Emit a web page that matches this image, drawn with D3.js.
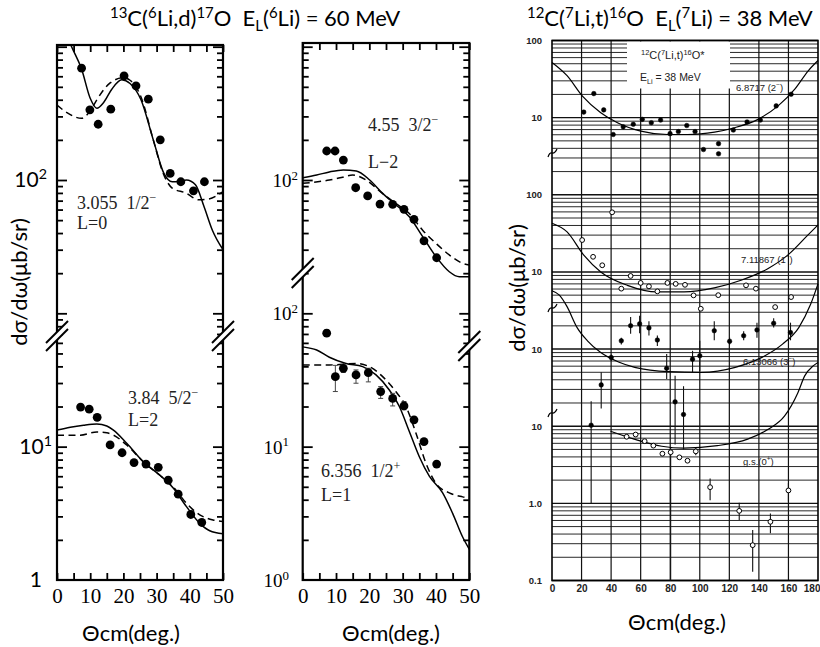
<!DOCTYPE html>
<html>
<head>
<meta charset="utf-8">
<script src="https://cdn.jsdelivr.net/npm/d3@7"></script>
<style>
body { margin: 0; background: #fff; }
svg { display: block; }
text { white-space: pre; }
</style>
</head>
<body>
<svg id="fig" width="820" height="647"></svg>
<script>
// ---- 13C(6Li,d)17O, 60 MeV : 3.055 1/2- (L=0)
const l0Angle = [7.4, 9.9, 12.4, 16.2, 20.2, 23.8, 27.5, 31.1, 34.1, 37.3, 41.1, 44.4];
const l0Sigma = [690, 336, 262, 340, 605, 509, 404, 200, 112, 97, 83, 97];
const l0Solid = [[0,1900],[2,1400],[4.4,1000],[7.4,680],[10,410],[12,345],[14,380],[16.5,480],[19.5,565],[22,530],[25.3,400],[29,200],[32.2,112],[34.7,97],[37,98],[39,100],[41.7,92],[44.3,63],[46.8,42],[50,30]];
const l0Dash = [[0,365],[3,320],[7.4,290],[10,330],[12,400],[16,535],[20,585],[22,560],[25.3,420],[29,200],[32,112],[34.7,87],[38.7,80],[42.7,71],[45.7,72],[50,82]];

// 3.84 5/2- (L=2)
const l2Angle = [7.1, 9.7, 12.1, 16.0, 19.6, 23.2, 26.8, 30.5, 33.5, 36.5, 40.3, 43.6];
const l2Sigma = [19.8, 19.1, 16.6, 10.3, 9.0, 7.6, 7.4, 7.0, 5.6, 4.4, 3.1, 2.7];
const l2Solid = [[0,13.3],[4,14],[8,14.5],[12,14.8],[15,14.3],[17,13.3],[21,10.6],[26,7.7],[31,6.1],[35,4.9],[39,3.55],[43,2.66],[46,2.34],[50,2.22]];
const l2Dash = [[0,12.2],[7,12.2],[12,12.9],[15,12.7],[17,12.2],[21,10.3],[26,7.7],[31,6.1],[35,5.0],[39,3.76],[43,3.08],[47,2.82],[50,2.75]];

// 4.55 3/2- (L=2)
const m2Angle = [7.2, 9.7, 12.2, 15.9, 19.5, 23.2, 27.0, 30.4, 33.4, 36.4, 40.2];
const m2Sigma = [165, 165, 141, 87.5, 75.9, 66, 65.7, 60.3, 50.7, 35, 26.1];
const m2Solid = [[0,104],[4.2,109],[8,115],[12.2,119],[16.1,117],[20.1,100],[24,79.4],[28,65],[32,53],[36,37.6],[40,26.6],[44,20.5],[47,18.8],[50,18.8]];
const m2Dash = [[0,94.4],[8,100],[12,105],[15,109],[19,100],[24,79],[28,66.6],[32,56],[36,42],[40,33.5],[44,27.4],[48,23.7],[50,23]];

// 6.356 1/2+ (L=1)
const m1Angle = [7.2, 9.8, 12.2, 16.0, 19.7, 23.4, 27.0, 30.4, 33.4, 36.4, 40.2];
const m1Sigma = [71, 33.5, 38.7, 34.5, 35.9, 25.9, 23, 20.2, 15.9, 10.9, 7.4];
const m1Low = [68, 25.9, 36, 29.9, 30.6, 23.0, 20.2, 18.9, 15.2, 10.5, 7.1];
const m1High = [75, 40.7, 41, 37.6, 38.7, 28.2, 25.1, 21.8, 16.6, 11.3, 7.7];
const m1Solid = [[0,56],[4.2,53],[8,46.8],[13,42],[18,39.8],[22,34.5],[26,26.6],[29,20],[32,13],[35,8.4],[38,6],[42,4.5],[45,3.16],[48,2.1],[50,1.7]];
const m1Dash = [[0,41],[8,41],[16,42],[20,39.8],[24,33.5],[28,25.8],[31,20],[34,12.6],[37,7.5],[40,5.3],[44,4.5],[48,4.2],[50,4.1]];

// ---- 12C(7Li,t)16O, 38 MeV (each state on its own offset of the log paper)
const s1Angle = [21.5, 28.3, 35, 41.4, 48.2, 55, 61.1, 67.2, 73.5, 79.9, 85.5, 91.2, 96.8, 102.5, 112.7, 112.7, 122.7, 132, 141, 151.7, 161.8];
const s1Sigma = [11.8, 20.5, 12.6, 6.05, 7.6, 8.2, 9.5, 8.6, 9.3, 6.2, 6.6, 7.9, 6.6, 3.86, 4.6, 3.4, 6.9, 8.8, 9.3, 14.2, 20.1];
const s1Curve = [[0,52],[10.2,35],[20.6,19],[33,11.6],[44.3,8.6],[60.1,6.7],[78.2,6.05],[91.8,6.05],[110,6.5],[123.5,7.4],[139.4,9.5],[153,14.2],[164.3,23.4],[173.4,40.5],[180,55]];

const s2Angle = [20.4, 27.8, 34, 40.7, 46.9, 53.2, 60, 65.6, 71.3, 78.1, 83.7, 90, 95.8, 100.7, 112.5, 131.3, 138, 151, 161.8];
const s2Sigma = [25.9, 15.7, 12.2, 59.3, 6.07, 8.87, 7.2, 6.5, 5.6, 7.2, 7.0, 6.8, 4.97, 3.33, 5.0, 6.7, 6.07, 3.5, 4.72];
const s2Curve = [[0,42.7],[10.2,33],[21.5,16.5],[33,10],[51,6.7],[71.3,5.5],[89.4,5.5],[109.8,6.2],[127.9,7.8],[146,11],[159.5,16.5],[173.1,30],[180,40.6]];

const s3Angle = [26.5, 33.3, 40.1, 46.9, 53.2, 59.3, 65.6, 71.3, 77.6, 83.3, 89, 95.1, 100, 109.8, 120.2, 129.7, 138.7, 150, 161.4];
const s3Sigma = [1.03, 3.43, 7.77, 12.8, 20.1, 21.2, 18.8, 13.1, 5.65, 2.07, 1.42, 7.4, 8.2, 17.3, 12.6, 14.9, 17.7, 21.6, 16.4];
const s3Low = [0.1, 1.7, 7.0, 11.5, 15.8, 16, 15, 11, 4.1, 0.58, 0.5, 5, 5.2, 13, 11.5, 13, 14, 19, 13];
const s3High = [2.1, 5.0, 8.5, 14, 26, 27, 23, 15, 8.6, 4.5, 3.3, 9.5, 12.8, 23, 14, 17, 22, 25, 22];
const s3Curve = [[0,57],[5,50],[10,36],[17,19],[24,12.8],[33,9.0],[45,6.8],[56,5.8],[79,5.1],[101,5.0],[124,5.8],[142,7.8],[156,11.6],[167,19],[175,38],[180,70]];

const s0Angle = [50.5, 56.6, 62.7, 68.6, 74.7, 80.3, 86.2, 91.7, 97.3, 107, 126.7, 135.8, 147.8, 160];
const s0Sigma = [7.3, 7.8, 6.4, 5.6, 4.4, 4.6, 3.95, 3.57, 4.72, 1.62, 0.80, 0.287, 0.577, 1.47];
const s0Low = [7.3, 7.8, 6.4, 5.6, 4.4, 0.1, 3.95, 3.57, 4.2, 1.1, 0.61, 0.13, 0.41, 1.05];
const s0High = [7.3, 7.8, 6.4, 5.6, 4.4, 5.2, 3.95, 3.57, 5.2, 2.1, 1.02, 0.45, 0.74, 1.83];
const s0Curve = [[39.6,8.6],[55.6,6.8],[74.3,5.5],[89.2,5.2],[111.9,5.6],[132.4,6.8],[146,9.06],[157.3,13.5],[166.4,27.2],[171,44.9],[176.7,60.5],[180,67]];

const stateScale = [1e4, 100, 10, 1];           // offset of each state on the paper
const rightTickPaper = [1e6, 1e5, 1e4, 1e3, 1e2, 10, 1, 0.1];
const rightTickText = ["100", "10", "100", "10", "10", "10", "1.0", "0.1"];

const svg = d3.select("#fig");
const SANS = "Lato, 'Open Sans', sans-serif";
const SERIF = "'Liberation Serif', 'DejaVu Serif', serif";

function rich(g, x, y, parts, size) {
  const t = g.append("text").attr("x", x).attr("y", y).attr("font-size", size);
  let shift = 0;
  parts.forEach(([s, m]) => {
    const target = m === "sup" ? -0.38 * size : m === "sub" ? 0.24 * size : 0;
    t.append("tspan").attr("dy", target - shift).attr("font-size", m ? size * 0.68 : size).text(s);
    shift = target;
  });
  return t;
}

// left and middle columns share the same log decades
const yUp = d3.scaleLog().domain([10, 1000]).range([313.3, 46.7]);
const yLo = d3.scaleLog().domain([1, 100]).range([580, 313.3]);

const colL = {x0: 57, x1: 223, top: 45, bottom: 580, split: 336, brL: 336, brR: 336};
const colM = {x0: 302.7, x1: 469.3, top: 43, bottom: 580, split: 300, brL: 273, brR: 346};
const xL = d3.scaleLinear().domain([0, 50]).range([colL.x0, colL.x1]);
const xM = d3.scaleLinear().domain([0, 50]).range([colM.x0, colM.x1]);

function frame(col, xs) {
  const g = svg.append("g");
  g.append("g").attr("transform", `translate(0,${col.bottom})`)
    .call(d3.axisBottom(xs).tickValues(d3.range(0, 51, 5)).tickSize(-7).tickFormat(""));
  g.append("g").attr("transform", `translate(0,${col.top})`)
    .call(d3.axisTop(xs).tickValues(d3.range(0, 51, 5)).tickSize(-7).tickFormat(""));
  [[yUp, col.top, col.split], [yLo, col.split, col.bottom]].forEach(([ys, a, b]) => {
    const vals = ys.copy().domain([ys.invert(b - 1), ys.invert(a + 1)]).ticks();
    const major = vals.filter(v => Math.abs(Math.log10(v) - Math.round(Math.log10(v))) < 1e-6);
    const minor = vals.filter(v => !major.includes(v));
    [[major, 10], [minor, 6]].forEach(([tv, len]) => {
      g.append("g").attr("transform", `translate(${col.x0},0)`)
        .call(d3.axisLeft(ys).tickValues(tv).tickSize(-len).tickFormat(""));
      g.append("g").attr("transform", `translate(${col.x1},0)`)
        .call(d3.axisRight(ys).tickValues(tv).tickSize(-len).tickFormat(""));
    });
  });
  g.selectAll(".domain").remove();
  g.selectAll("line").attr("stroke", "#000").attr("stroke-width", 1.8);
  g.append("rect").attr("x", col.x0).attr("y", col.top)
    .attr("width", col.x1 - col.x0).attr("height", col.bottom - col.top)
    .attr("fill", "none").attr("stroke", "#000").attr("stroke-width", 2.2);
  breakMark(col.x0, col.brL);
  breakMark(col.x1, col.brR);
  // x tick labels
  const xa = svg.append("g").attr("transform", `translate(0,${col.bottom})`)
    .call(d3.axisBottom(xs).tickValues(d3.range(0, 51, 10)).tickSize(0).tickPadding(8));
  xa.select(".domain").remove();
  xa.selectAll("text").attr("font-family", SERIF).attr("font-size", 21).attr("fill", "#000");
}

function breakMark(cx, cy) {
  const g = svg.append("g");
  g.append("polygon")
    .attr("points", `${cx-11},${cy+7} ${cx+11},${cy-15} ${cx+11},${cy-7} ${cx-11},${cy+15}`)
    .attr("fill", "#fff");
  [-4, 4].forEach(o => {
    g.append("line").attr("x1", cx - 11).attr("y1", cy + 11 + o).attr("x2", cx + 11).attr("y2", cy - 11 + o)
      .attr("stroke", "#000").attr("stroke-width", 2);
  });
}

let clipN = 0;
function section(xs, ys, x0, x1, y0, y1, angle, sigma, solid, dash, low, high) {
  const id = "clip" + (clipN++);
  svg.append("clipPath").attr("id", id).append("rect")
    .attr("x", x0).attr("y", y0).attr("width", x1 - x0).attr("height", y1 - y0);
  const g = svg.append("g").attr("clip-path", `url(#${id})`);
  const line = d3.line().x(d => xs(d[0])).y(d => ys(d[1])).curve(d3.curveMonotoneX);
  g.append("path").datum(solid).attr("d", line).attr("fill", "none").attr("stroke", "#000").attr("stroke-width", 1.5);
  g.append("path").datum(dash).attr("d", line).attr("fill", "none").attr("stroke", "#000")
    .attr("stroke-width", 1.5).attr("stroke-dasharray", "7,4.5");
  if (low) {
    angle.forEach((a, i) => {
      g.append("line").attr("x1", xs(a)).attr("x2", xs(a)).attr("y1", ys(low[i])).attr("y2", ys(high[i]))
        .attr("stroke", "#444").attr("stroke-width", 1);
      [low[i], high[i]].forEach(v => g.append("line").attr("x1", xs(a) - 2.5).attr("x2", xs(a) + 2.5)
        .attr("y1", ys(v)).attr("y2", ys(v)).attr("stroke", "#444").attr("stroke-width", 1));
    });
  }
  g.selectAll("circle.pt").data(angle).join("circle").attr("class", "pt")
    .attr("cx", d => xs(d)).attr("cy", (d, i) => ys(sigma[i])).attr("r", 4.4).attr("fill", "#000");
}

section(xL, yUp, colL.x0, colL.x1, colL.top, colL.split, l0Angle, l0Sigma, l0Solid, l0Dash);
section(xL, yLo, colL.x0, colL.x1, colL.split, colL.bottom, l2Angle, l2Sigma, l2Solid, l2Dash);
section(xM, yUp, colM.x0, colM.x1, colM.top, colM.split, m2Angle, m2Sigma, m2Solid, m2Dash);
section(xM, yLo, colM.x0, colM.x1, colM.split, colM.bottom, m1Angle, m1Sigma, m1Solid, m1Dash, m1Low, m1High);
frame(colL, xL);
frame(colM, xM);

// y tick labels
const lab = svg.append("g").attr("fill", "#000");
rich(lab.append("g").attr("font-family", SANS).attr("text-anchor", "end"), 47, yUp(100) + 7, [["10", ""], ["2", "sup"]], 21);
rich(lab.append("g").attr("font-family", SANS).attr("text-anchor", "end"), 52, yLo(10) + 7, [["10", ""], ["1", "sup"]], 21);
lab.append("text").attr("font-family", SANS).attr("text-anchor", "end").attr("x", 42).attr("y", yLo(1) + 7).attr("font-size", 21).text("1");
rich(lab.append("g").attr("font-family", SERIF).attr("text-anchor", "end"), 298, yUp(100) + 7, [["10", ""], ["2", "sup"]], 19);
rich(lab.append("g").attr("font-family", SERIF).attr("text-anchor", "end"), 298, yLo(100) + 7, [["10", ""], ["2", "sup"]], 19);
rich(lab.append("g").attr("font-family", SERIF).attr("text-anchor", "end"), 289, yLo(10) + 7, [["10", ""], ["1", "sup"]], 19);
rich(lab.append("g").attr("font-family", SERIF).attr("text-anchor", "end"), 289, yLo(1) + 7, [["10", ""], ["0", "sup"]], 19);

// state annotations
const ann = svg.append("g").attr("font-family", SERIF).attr("fill", "#222");
rich(ann, 77, 209, [["3.055  1/2", ""], ["\u2212", "sup"]], 18);
ann.append("text").attr("x", 77).attr("y", 229).attr("font-size", 18).text("L=0");
rich(ann, 128, 404, [["3.84  5/2", ""], ["\u2212", "sup"]], 18);
ann.append("text").attr("x", 128).attr("y", 426).attr("font-size", 18).text("L=2");
rich(ann, 368, 131, [["4.55  3/2", ""], ["\u2212", "sup"]], 18);
ann.append("text").attr("x", 368).attr("y", 168).attr("font-size", 18).text("L\u22122");
rich(ann, 321, 477, [["6.356  1/2", ""], ["+", "sup"]], 18);
ann.append("text").attr("x", 321).attr("y", 501).attr("font-size", 18).text("L=1");

// ---- right panel: log graph paper
const R = {x0: 552, x1: 818, top: 40.5, bottom: 580.5};
const xR = d3.scaleLinear().domain([0, 180]).range([R.x0, R.x1]);
const yR = d3.scaleLog().domain([0.1, 1e6]).range([R.bottom, R.top]);
const paper = svg.append("g");
paper.selectAll("line.h").data(yR.ticks()).join("line").attr("class", "h")
  .attr("x1", R.x0).attr("x2", R.x1).attr("y1", d => yR(d)).attr("y2", d => yR(d))
  .attr("stroke", "#111").attr("stroke-width", d => Math.abs(Math.log10(d) % 1) < 1e-6 ? 1.4 : 0.9);
paper.selectAll("line.v").data(d3.range(20, 180, 20)).join("line").attr("class", "v")
  .attr("x1", d => xR(d)).attr("x2", d => xR(d)).attr("y1", R.top).attr("y2", R.bottom)
  .attr("stroke", "#111").attr("stroke-width", 1.2);
paper.append("rect").attr("x", 627).attr("y", R.top + 1).attr("width", 103).attr("height", 47).attr("fill", "#fff");
paper.append("rect").attr("x", R.x0).attr("y", R.top).attr("width", R.x1 - R.x0).attr("height", R.bottom - R.top)
  .attr("fill", "none").attr("stroke", "#000").attr("stroke-width", 1.6);

const rline = k => d3.line().x(d => xR(d[0])).y(d => yR(d[1] * stateScale[k])).curve(d3.curveMonotoneX);
const rg = svg.append("g");
[s1Curve, s2Curve, s3Curve, s0Curve].forEach((c, k) => {
  rg.append("path").datum(c).attr("d", rline(k)).attr("fill", "none").attr("stroke", "#000").attr("stroke-width", 1.2);
});
[[s3Angle, s3Low, s3High, 2], [s0Angle, s0Low, s0High, 3]].forEach(([ang, lo, hi, k]) => {
  rg.selectAll(null).data(ang).join("line")
    .attr("x1", d => xR(d)).attr("x2", d => xR(d))
    .attr("y1", (d, i) => yR(lo[i] * stateScale[k])).attr("y2", (d, i) => yR(hi[i] * stateScale[k]))
    .attr("stroke", "#111").attr("stroke-width", 1.1);
});
[[s1Angle, s1Sigma, 0, true], [s2Angle, s2Sigma, 1, false], [s3Angle, s3Sigma, 2, true], [s0Angle, s0Sigma, 3, false]]
  .forEach(([ang, sig, k, filled]) => {
    rg.selectAll(null).data(ang).join("circle")
      .attr("cx", d => xR(d)).attr("cy", (d, i) => yR(sig[i] * stateScale[k]))
      .attr("r", filled ? 2.3 : 2.4).attr("fill", filled ? "#000" : "#fff")
      .attr("stroke", "#000").attr("stroke-width", filled ? 0.5 : 1);
  });

// break squiggles on the left edge
[153, 308, 413].forEach(cy => {
  rg.append("path").attr("d", `M${R.x0-4},${cy+4} C${R.x0-1},${cy-5} ${R.x0+1},${cy+5} ${R.x0+5},${cy-4}`)
    .attr("fill", "none").attr("stroke", "#000").attr("stroke-width", 1.2);
});

const rt = svg.append("g").attr("font-family", "'Liberation Sans', sans-serif").attr("font-weight", "bold").attr("fill", "#222");
rt.selectAll("text.yt").data(rightTickPaper).join("text").attr("class", "yt")
  .attr("x", 542).attr("y", d => yR(d) + 3.5).attr("text-anchor", "end").attr("font-size", 9.5)
  .text((d, i) => rightTickText[i]);
const xa = svg.append("g").attr("transform", `translate(0,${R.bottom})`)
  .call(d3.axisBottom(xR).tickValues(d3.range(0, 181, 20)).tickSize(0).tickPadding(4));
xa.select(".domain").remove();
xa.selectAll("text").attr("font-family", "'Liberation Sans', sans-serif").attr("font-weight", "bold")
  .attr("font-size", 10).attr("fill", "#222")
  .attr("text-anchor", d => d === 180 ? "end" : "middle").attr("dx", d => d === 180 ? 2 : 0);

const rl = svg.append("g").attr("font-family", "'Liberation Sans', sans-serif").attr("fill", "#222");
rich(rl, 641, 59, [["12", "sup"], ["C(", ""], ["7", "sup"], ["Li,t)", ""], ["16", "sup"], ["O*", ""]], 11);
rich(rl, 640, 81, [["E", ""], ["Li", "sub"], [" = 38 MeV", ""]], 10.5);
rich(rl, 736, 91, [["6.8717 (2", ""], ["\u2212", "sup"], [")", ""]], 9.5);
rich(rl, 741, 263, [["7.11867 (1", ""], ["\u2212", "sup"], [")", ""]], 9.5);
rich(rl, 743, 365, [["6.13066 (3", ""], ["\u2212", "sup"], [")", ""]], 9.5);
rich(rl, 743, 465, [["g.s.(0", ""], ["+", "sup"], [")", ""]], 9.5);

// titles and axis labels
const tg = svg.append("g").attr("font-family", SANS).attr("fill", "#000");
rich(tg, 110, 26, [["13", "sup"], ["C(", ""], ["6", "sup"], ["Li,d)", ""], ["17", "sup"], ["O  E", ""], ["L", "sub"], ["(", ""], ["6", "sup"], ["Li) = 60 MeV", ""]], 22);
rich(tg, 527, 26, [["12", "sup"], ["C(", ""], ["7", "sup"], ["Li,t)", ""], ["16", "sup"], ["O  E", ""], ["L", "sub"], ["(", ""], ["7", "sup"], ["Li) = 38 MeV", ""]], 22);
tg.append("text").attr("x", 131).attr("y", 641).attr("text-anchor", "middle").attr("font-size", 22).text("\u0398cm(deg.)");
tg.append("text").attr("x", 391).attr("y", 641).attr("text-anchor", "middle").attr("font-size", 22).text("\u0398cm(deg.)");
tg.append("text").attr("x", 677).attr("y", 630).attr("text-anchor", "middle").attr("font-size", 22).text("\u0398cm(deg.)");
tg.append("text").attr("transform", "translate(27,282) rotate(-90)").attr("text-anchor", "middle").attr("font-size", 22).text("d\u03c3/d\u03c9(\u03bcb/sr)");
tg.append("text").attr("transform", "translate(525,288) rotate(-90)").attr("text-anchor", "middle").attr("font-size", 22).text("d\u03c3/d\u03c9(\u03bcb/sr)");
</script>
</body>
</html>
